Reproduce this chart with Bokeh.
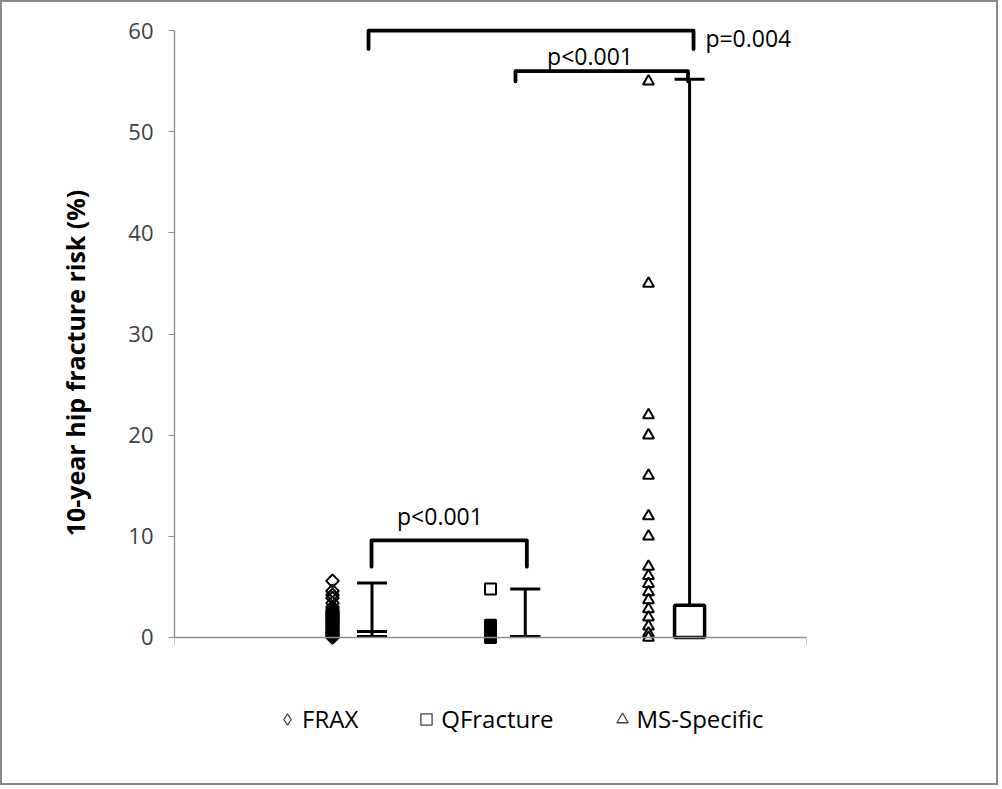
import numpy as np
from bokeh.plotting import figure
from bokeh.models import Range1d, FixedTicker, Legend, LegendItem, ColumnDataSource
from bokeh.core.properties import value
from bokeh.embed import file_html
from bokeh.resources import INLINE

# ---------------- data ----------------
groups = ["FRAX", "QFracture", "MS-Specific"]
group_x = [1, 2, 3]            # x position of the individual points
summary_x = [1.25, 2.22, 3.26]  # x position of the summary (range) bars

frax_values = [5.6, 4.6, 4.2, 3.9, 3.4, 3.0, 2.8, 2.6, 2.5, 2.4, 2.3, 2.2, 2.1,
               2.0, 1.9, 1.8, 1.7, 1.6, 1.5, 1.4, 1.3, 1.2, 1.1, 1.0, 0.9, 0.8,
               0.7, 0.6, 0.5, 0.4, 0.3, 0.2, 0.1, 0.0]
qf_values = [4.8, 1.2, 1.1, 1.0, 0.9, 0.8, 0.7, 0.6, 0.5, 0.4, 0.3, 0.2, 0.1, 0.0]
ms_values = [55, 35, 22, 20, 16, 12, 10, 7.0, 6.1, 5.3, 4.5, 3.7, 2.8, 2.0,
             1.1, 0.4, 0.0]

# summary bars: FRAX / QFracture (min, median, max), MS box (0..q) + whisker to max
range_min = [0.1, 0.1]
range_median = [0.6, 0.1]
range_max = [5.4, 4.8]
ms_box_bottom = 0.0
ms_box_top = 3.2
ms_max = 55.2
cap_half = 0.095

# significance brackets
bracket_left = [1.247, 1.228, 2.158]
bracket_right = [2.23, 3.285, 3.25]
bracket_top = [9.6, 60.0, 56.0]
bracket_drop = [7.0, 58.2, 55.0]
bracket_labels = ["p<0.001", "p=0.004", "p<0.001"]
label_x = [1.68, 3.36, 2.63]
label_y = [12.0, 59.3, 57.5]
label_align = ["center", "left", "center"]

y_ticks = [0, 10, 20, 30, 40, 50, 60]

FONT = "Open Sans"

# frame: canvas y 13 .. 760  -> 747 px for 73.86 units (10.114 px / unit)
p = figure(width=998, height=785,
           x_range=Range1d(0, 4), y_range=Range1d(-12.36, 61.5),
           output_backend="svg", toolbar_location=None,
           min_border_left=172, min_border_right=194,
           min_border_top=13, min_border_bottom=25)
p.styles = {"border": "2px solid #8a8a8a"}
p.xgrid.visible = False
p.ygrid.visible = False
p.outline_line_color = None
p.background_fill_color = "white"
p.border_fill_color = "white"

# x axis drawn at y = 0, no labels
p.xaxis.fixed_location = 0
p.xaxis.ticker = FixedTicker(ticks=[0, 4])
p.xaxis.major_label_text_color = None
p.xaxis.major_label_text_font_size = "8px"
p.xaxis.major_label_standoff = 0
p.xaxis.major_tick_out = 8
p.xaxis.major_tick_in = 0
p.xaxis.minor_tick_line_color = None
p.xaxis.axis_line_color = "#8c8c8c"
p.xaxis.major_tick_line_color = "#8c8c8c"
p.xaxis.axis_line_width = 1.3

# y axis
p.yaxis.ticker = FixedTicker(ticks=y_ticks)
p.yaxis.bounds = (0, 60)
p.yaxis.major_tick_out = 6
p.yaxis.major_tick_in = 0
p.yaxis.minor_tick_line_color = None
p.yaxis.axis_line_color = "#8c8c8c"
p.yaxis.major_tick_line_color = "#8c8c8c"
p.yaxis.axis_line_width = 1.3
p.yaxis.major_label_text_font = FONT
p.yaxis.major_label_text_font_size = "22px"
p.yaxis.major_label_text_color = "#404040"
p.yaxis.major_label_standoff = 15
p.yaxis.axis_label = "\u00a0" * 8 + "10-year hip fracture risk (%)"
p.yaxis.axis_label_text_font = FONT
p.yaxis.axis_label_text_font_style = "bold"
p.yaxis.axis_label_text_font_size = "25px"
p.yaxis.axis_label_text_color = "black"
p.yaxis.axis_label_standoff = 33

# ---------------- individual points ----------------
p.scatter(x=[group_x[0]] * len(frax_values), y=frax_values, marker="square",
          angle=np.pi / 4, size=9, fill_color=None, line_color="black", line_width=2)
p.scatter(x=[group_x[1]] * len(qf_values), y=qf_values, marker="square",
          size=11, fill_color=None, line_color="black", line_width=2)
p.scatter(x=[group_x[2]] * len(ms_values), y=ms_values, marker="triangle",
          size=11, fill_color="white", line_color="black", line_width=2)

# ---------------- summary bars ----------------
rx = summary_x[:2]
p.segment(x0=rx, y0=range_min, x1=rx, y1=range_max, line_color="black", line_width=3)
cap_x = rx * 3
cap_y = range_max + range_median + range_min
p.segment(x0=[x - cap_half for x in cap_x], y0=cap_y,
          x1=[x + cap_half for x in cap_x], y1=cap_y, line_color="black", line_width=3)

msx = summary_x[2]
p.segment(x0=[msx], y0=[ms_box_top], x1=[msx], y1=[ms_max], line_color="black", line_width=3)
p.segment(x0=[msx - cap_half], y0=[ms_max], x1=[msx + cap_half], y1=[ms_max],
          line_color="black", line_width=3)
p.quad(left=[msx - cap_half], right=[msx + cap_half], bottom=[ms_box_bottom], top=[ms_box_top],
       fill_color="white", line_color="black", line_width=3.5)

# ---------------- brackets ----------------
xs = [[l, l, r, r] for l, r in zip(bracket_left, bracket_right)]
ys = [[d, t, t, d] for t, d in zip(bracket_top, bracket_drop)]
p.multi_line(xs=xs, ys=ys, line_color="black", line_width=3.8, line_join="round", line_cap="round")

src = ColumnDataSource(dict(x=label_x, y=label_y, text=bracket_labels, align=label_align))
p.text(x="x", y="y", text="text", source=src, text_align="align", text_baseline="middle",
       text_font=value(FONT), text_font_size="23px", text_color="black")

# ---------------- legend ----------------
leg_markers = ["diamond", "square", "triangle"]
items = []
for name, mk in zip(groups, leg_markers):
    r = p.scatter(x=[np.nan], y=[np.nan], marker=mk, size=10, fill_color="white",
                  line_color="#404040", line_width=1.3)
    items.append(LegendItem(label=name, renderers=[r]))

legend = Legend(items=items, orientation="horizontal", location=(99, 27),
                margin=0, padding=0, spacing=54, border_line_color=None,
                background_fill_alpha=0, glyph_width=28, glyph_height=28,
                label_standoff=1, label_text_font=FONT, label_text_font_size="24px",
                label_text_color="black")
p.add_layout(legend)

open("out.html", "w").write(file_html(p, INLINE))
